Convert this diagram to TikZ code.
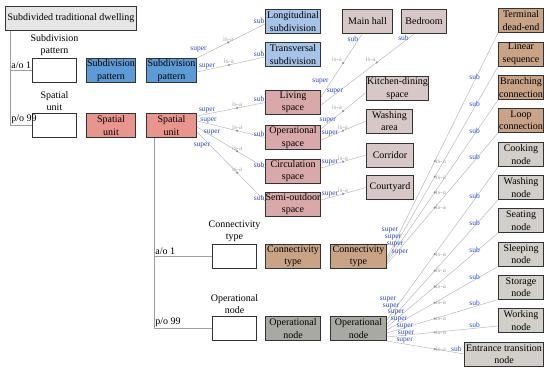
\documentclass[tikz,border=0pt]{standalone}
\usepackage{fontspec}
\setmainfont{Liberation Serif}
\usetikzlibrary{positioning}
\definecolor{toptone}{RGB}{230,230,230}
\definecolor{sppat}{RGB}{93,155,214}
\definecolor{spsub}{RGB}{166,195,232}
\definecolor{spunit}{RGB}{232,149,141}
\definecolor{spkind}{RGB}{217,169,169}
\definecolor{sproom}{RGB}{216,199,199}
\definecolor{conntype}{RGB}{200,163,134}
\definecolor{opnode}{RGB}{169,169,163}
\definecolor{opkind}{RGB}{210,207,202}
\definecolor{relblue}{RGB}{42,76,200}
\newcommand{\boxfont}{\fontsize{10}{12.5}\selectfont}
\newcommand{\relfont}{\fontsize{7.5}{8}\selectfont}
\newcommand{\isafont}{\fontsize{7}{8}\selectfont}
% from, to, super pos, super placement, dot pos, is-a anchor, sub placement, sub text
\newcommand{\isarel}[8]{%
  \draw[isaline] (#1) -- node[supl,pos=#3,#4]{super}
        node[isadot,pos=#5]{} node[isal,pos=#5,anchor=#6]{is-a}
        node[subl,#7]{#8} (#2);}
\tikzset{
  clsbox/.style   = {draw=black!80, line width=1pt, inner sep=0pt, align=center,
                     minimum height=24pt, font=\boxfont},
  blankbox/.style = {clsbox, fill=white, minimum width=44pt},
  caplbl/.style   = {align=center, inner sep=1pt, font=\boxfont},
  taglbl/.style   = {inner sep=1pt, font=\boxfont},
  trunk/.style    = {draw=gray!75, line width=0.9pt},
  isaline/.style  = {draw=gray!55, line width=0.5pt},
  supl/.style     = {text=relblue, inner sep=0.3pt, font=\relfont},
  subl/.style     = {text=relblue, inner sep=0.4pt, font=\relfont},
  isal/.style     = {text=gray!70, inner sep=0.8pt, font=\isafont},
  isadot/.style   = {circle, fill=gray!85, inner sep=0pt, minimum size=2.4pt}
}

\begin{document}
\begin{tikzpicture}[x=1pt,y=-1pt]
  \useasboundingbox (0,0) rectangle (550,372);
  % left part
  \node[clsbox,fill=toptone,minimum width=131pt] (dwell) at (71,18.5)
       {Subdivided traditional dwelling};
  \node[blankbox] (wsp) at (54.5,70.5) {};
  \node[caplbl,above=1pt of wsp] (capsp) {Subdivision\\pattern};
  \node[clsbox,fill=sppat,minimum width=49pt] (sp1) at (111,70.5) {Subdivision\\pattern};
  \node[clsbox,fill=sppat,minimum width=50pt] (sp2) at (171.5,70.5) {Subdivision\\pattern};
  \node[blankbox] (wsu) at (54.5,125.5) {};
  \node[caplbl,above=1pt of wsu] (capsu) {Spatial\\unit};
  \node[clsbox,fill=spunit,minimum width=49pt] (su1) at (111,125.5) {Spatial\\unit};
  \node[clsbox,fill=spunit,minimum width=50pt] (su2) at (171.5,125.5) {Spatial\\unit};
  \node[blankbox] (wct) at (234.5,256.5) {};
  \node[caplbl,above=1pt of wct] (capct) {Connectivity\\type};
  \node[clsbox,fill=conntype,minimum width=55pt] (ct1) at (293,256.5) {Connectivity\\type};
  \node[clsbox,fill=conntype,minimum width=56pt] (ct2) at (358.5,256.5) {Connectivity\\type};
  \node[blankbox] (won) at (234.5,328.5) {};
  \node[caplbl,above=1pt of won] (capon) {Operational\\node};
  \node[clsbox,fill=opnode,minimum width=55pt] (on1) at (293,328.5) {Operational\\node};
  \node[clsbox,fill=opnode,minimum width=56pt] (on2) at (358.5,328.5) {Operational\\node};
  \draw[trunk] ([xshift=5pt]dwell.south west) |- node[taglbl,pos=.5,anchor=south west]{a/o 1} (wsp.west);
  \draw[trunk] ([xshift=5pt]dwell.south west) |- node[taglbl,pos=.5,anchor=south west]{p/o 99} (wsu.west);
  \draw[trunk] ([xshift=8pt]su2.south west) |- node[taglbl,pos=.5,anchor=south west]{a/o 1} (wct.west);
  \draw[trunk] ([xshift=8pt]su2.south west) |- node[taglbl,pos=.5,anchor=south west]{p/o 99} (won.west);
  % subclasses
  \node[clsbox,fill=spsub,minimum width=55pt] (long) at (293,21.5) {Longitudinal\\subdivision};
  \node[clsbox,fill=spsub,minimum width=55pt] (trans) at (293,54.5) {Transversal\\subdivision};
  \node[clsbox,fill=spkind,minimum width=55pt] (living) at (293,102.5) {Living\\space};
  \node[clsbox,fill=spkind,minimum width=55pt] (opsp) at (293,137.5) {Operational\\space};
  \node[clsbox,fill=spkind,minimum width=55pt] (circ) at (293,171) {Circulation\\space};
  \node[clsbox,fill=spkind,minimum width=55pt] (semi) at (293,204) {Semi-outdoor\\space};
  \node[clsbox,fill=sproom,minimum width=50pt] (mainhall) at (367.5,21.5) {Main hall};
  \node[clsbox,fill=sproom,minimum width=45pt] (bedroom) at (424,21.5) {Bedroom};
  \node[clsbox,fill=sproom,minimum width=62pt] (kitchen) at (397.5,88.5) {Kitchen-dining\\space};
  \node[clsbox,fill=sproom,minimum width=46pt] (washarea) at (389.5,121) {Washing\\area};
  \node[clsbox,fill=sproom,minimum width=47pt] (corridor) at (390,155) {Corridor};
  \node[clsbox,fill=sproom,minimum width=47pt] (courtyard) at (390,187.5) {Courtyard};
  % right column
  \node[clsbox,fill=conntype,minimum width=45pt] (term) at (521,20.5) {Terminal\\dead-end};
  \node[clsbox,fill=conntype,minimum width=45pt] (linear) at (521,54) {Linear\\sequence};
  \node[clsbox,fill=conntype,minimum width=45pt] (branch) at (521,87.5) {Branching\\connection};
  \node[clsbox,fill=conntype,minimum width=45pt] (loop) at (521,120.5) {Loop\\connection};
  \node[clsbox,fill=opkind,minimum width=45pt] (cook) at (521,154.5) {Cooking\\node};
  \node[clsbox,fill=opkind,minimum width=45pt] (washn) at (521,187.5) {Washing\\node};
  \node[clsbox,fill=opkind,minimum width=45pt] (seat) at (521,220.5) {Seating\\node};
  \node[clsbox,fill=opkind,minimum width=45pt] (sleep) at (521,254) {Sleeping\\node};
  \node[clsbox,fill=opkind,minimum width=45pt] (store) at (521,287) {Storage\\node};
  \node[clsbox,fill=opkind,minimum width=45pt] (work) at (521,320.5) {Working\\node};
  \node[clsbox,fill=opkind,minimum width=79pt] (entr) at (504,354) {Entrance transition\\node};
  % is-a relations
  \isarel{sp2.north east}{[yshift=-2.5pt]long.west}{.15}{anchor=south east}{.46}{south}{pos=1,anchor=south east}{sub}
  \isarel{[yshift=-1.5pt]sp2.east}{[yshift=-2.5pt]trans.west}{.15}{anchor=south}{.47}{south}{pos=1,anchor=south east}{sub}
  \isarel{[yshift=9.5pt]su2.east}{living.west}{.15}{anchor=south}{.59}{south}{pos=1,anchor=south east}{sub}
  \isarel{[yshift=4.5pt]su2.east}{opsp.west}{.17}{anchor=south}{.59}{south}{pos=1,anchor=south east}{sub}
  \isarel{[yshift=-1.5pt]su2.east}{[yshift=3pt]circ.west}{.22}{anchor=south}{.59}{south}{pos=1,anchor=south east}{sub}
  \isarel{[yshift=-6.5pt]su2.east}{[yshift=3pt]semi.west}{.2}{anchor=east}{.59}{south}{pos=1,anchor=south east}{sub}
  \isarel{[yshift=5.5pt]living.east}{[xshift=-5.5pt]mainhall.south}{.2}{anchor=south east}{.54}{south east}{pos=.92,anchor=east}{sub}
  \isarel{[yshift=-2.5pt]living.east}{[xshift=-10pt]bedroom.south}{.15}{anchor=south}{.6}{south east}{pos=.95,anchor=east}{sub}
  \isarel{[yshift=8.5pt]opsp.east}{[yshift=-4pt]kitchen.west}{.15}{anchor=south}{.49}{south east}{pos=1}{}
  \isarel{[yshift=-2.5pt]opsp.east}{washarea.west}{.2}{anchor=south}{.49}{south}{pos=1}{}
  \isarel{[yshift=3pt]circ.east}{corridor.west}{.2}{anchor=south}{.49}{south}{pos=1}{}
  \isarel{[yshift=4pt]semi.east}{courtyard.west}{.2}{anchor=south}{.49}{south}{pos=1}{}
  \foreach \tgt/\dy/\sx/\sy in {term/-1.5/-8/4.5, linear/-3.5/-5/2.7,
                               branch/-5.5/-3/0.8, loop/-7.5/2/-1.2}
    \isarel{[yshift=\dy pt]ct2.east}{\tgt.south west}{.1}{xshift=\sx pt,yshift=\sy pt}{.43}{west}{pos=.79,anchor=south}{sub};
  \foreach \tgt/\dy/\sx/\sy in {cook/8.5/-10/4.7, washn/4.5/-7/4.6, seat/1.5/-2/4.6,
                               sleep/-1.5/1/4.1, store/-4.5/7/3.5}
    \isarel{[yshift=\dy pt]on2.east}{\tgt.south west}{.1}{xshift=\sx pt,yshift=\sy pt}{.43}{west}{pos=.79,anchor=south}{sub};
  \isarel{[yshift=-8.5pt]on2.east}{[yshift=7pt]work.south west}{.1}{xshift=8pt,yshift=2pt}{.43}{west}{pos=.79,anchor=south}{sub}
  \isarel{on2.south east}{entr.west}{.1}{xshift=10pt,yshift=2.2pt}{.62}{west}{pos=.9,anchor=south}{sub}
\end{tikzpicture}
\end{document}
